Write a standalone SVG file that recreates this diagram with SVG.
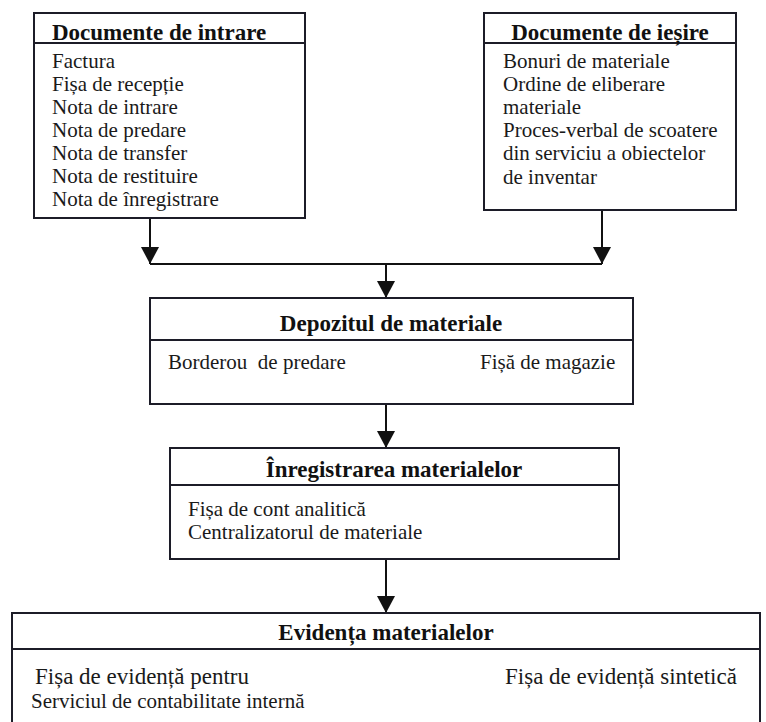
<svg xmlns="http://www.w3.org/2000/svg" width="766" height="722" viewBox="0 0 766 722">
<style>
.box{fill:#fff;stroke:#1c1c28;stroke-width:2}
.sep{stroke:#1c1c28;stroke-width:2}
.t{font-family:"Liberation Serif","Times New Roman",serif;font-weight:bold;font-size:23px;fill:#111}
.b{font-family:"Liberation Serif","Times New Roman",serif;font-size:21px;fill:#1a1a1a}
.b23{font-family:"Liberation Serif","Times New Roman",serif;font-size:23px;fill:#1a1a1a}
.c{stroke:#111;stroke-width:2;fill:none}
</style>
<defs>
<marker id="ah" markerUnits="userSpaceOnUse" markerWidth="18" markerHeight="18" refX="17" refY="9" orient="auto">
<path d="M0,0 L17,9 L0,18 z" fill="#111"/>
</marker>
</defs>
<rect width="766" height="722" fill="#fff"/>
<g id="connectors">
<line class="c" x1="150" y1="218" x2="150" y2="264" marker-end="url(#ah)"/>
<line class="c" x1="602" y1="210" x2="602" y2="264" marker-end="url(#ah)"/>
<line class="c" x1="150" y1="264" x2="602" y2="264"/>
<line class="c" x1="386" y1="264" x2="386" y2="298" marker-end="url(#ah)"/>
<line class="c" x1="386" y1="404" x2="386" y2="448" marker-end="url(#ah)"/>
<line class="c" x1="386" y1="559" x2="386" y2="613" marker-end="url(#ah)"/>
</g>
<g id="documente-intrare">
<rect class="box" x="34" y="13" width="271" height="205"/>
<line class="sep" x1="34" y1="43" x2="305" y2="43"/>
<text class="t" x="52" y="40">Documente de intrare</text>
<text class="b" x="52" y="68">Factura</text>
<text class="b" x="52" y="91">Fișa de recepție</text>
<text class="b" x="52" y="114">Nota de intrare</text>
<text class="b" x="52" y="137">Nota de predare</text>
<text class="b" x="52" y="160">Nota de transfer</text>
<text class="b" x="52" y="183">Nota de restituire</text>
<text class="b" x="52" y="206">Nota de înregistrare</text>
</g>
<g id="documente-iesire">
<rect class="box" x="484" y="13" width="252" height="197"/>
<line class="sep" x1="484" y1="43" x2="736" y2="43"/>
<text class="t" x="610" y="40" text-anchor="middle">Documente de ieșire</text>
<text class="b" x="503" y="68">Bonuri de materiale</text>
<text class="b" x="503" y="91">Ordine de eliberare</text>
<text class="b" x="503" y="114">materiale</text>
<text class="b" x="503" y="137">Proces-verbal de scoatere</text>
<text class="b" x="503" y="160">din serviciu a obiectelor</text>
<text class="b" x="503" y="184">de inventar</text>
</g>
<g id="depozitul">
<rect class="box" x="150" y="298" width="483" height="106"/>
<line class="sep" x1="150" y1="340" x2="633" y2="340"/>
<text class="t" x="391" y="331" text-anchor="middle">Depozitul de materiale</text>
<text class="b" x="168" y="369" xml:space="preserve">Borderou  de predare</text>
<text class="b" x="480" y="369">Fișă de magazie</text>
</g>
<g id="inregistrarea">
<rect class="box" x="170" y="448" width="449" height="111"/>
<line class="sep" x1="170" y1="485" x2="619" y2="485"/>
<text class="t" x="394" y="477" text-anchor="middle">Înregistrarea materialelor</text>
<text class="b" x="188" y="516">Fișa de cont analitică</text>
<text class="b" x="188" y="539">Centralizatorul de materiale</text>
</g>
<g id="evidenta">
<rect class="box" x="12" y="613" width="748" height="120"/>
<line class="sep" x1="12" y1="649" x2="760" y2="649"/>
<text class="t" x="386" y="640" text-anchor="middle" font-size="22">Evidența materialelor</text>
<text class="b23" x="35" y="684">Fișa de evidență pentru</text>
<text class="b" x="31" y="708">Serviciul de contabilitate internă</text>
<text class="b23" x="505" y="684">Fișa de evidență sintetică</text>
</g>
</svg>
